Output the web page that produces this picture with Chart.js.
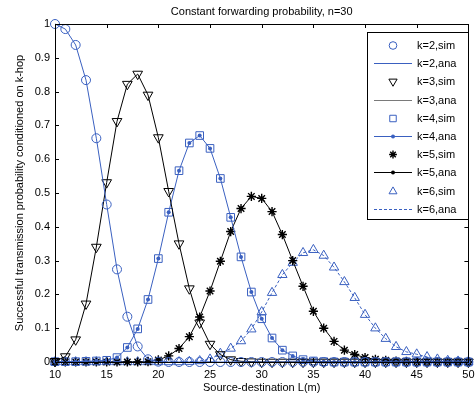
<!DOCTYPE html>
<html>
<head>
<meta charset="utf-8">
<title>Constant forwarding probability, n=30</title>
<script src="https://cdn.jsdelivr.net/npm/chart.js@4.4.1/dist/chart.umd.min.js"></script>
<style>
    body { margin: 0; background: #fff; }
    #chartBox { width: 475px; height: 401px; }
</style>
</head>
<body>
<div id="chartBox"><canvas id="hopChart" width="475" height="401"></canvas></div>
<script>
// Source-destination distance L (m)
const distances = [10, 11, 12, 13, 14, 15, 16, 17, 18, 19,
                   20, 21, 22, 23, 24, 25, 26, 27, 28, 29,
                   30, 31, 32, 33, 34, 35, 36, 37, 38, 39,
                   40, 41, 42, 43, 44, 45, 46, 47, 48, 49, 50];

// Success probability conditioned on k hops, one list per k
const hop2 = [1.0, 0.985, 0.938, 0.834, 0.662, 0.466, 0.274, 0.134, 0.046, 0.008,
              0.001, 0, 0, 0, 0, 0, 0, 0, 0, 0,
              0, 0, 0, 0, 0, 0, 0, 0, 0, 0,
              0, 0, 0, 0, 0, 0, 0, 0, 0, 0, 0];
const hop3 = [0.002, 0.016, 0.066, 0.172, 0.34, 0.531, 0.712, 0.822, 0.852, 0.79,
              0.664, 0.505, 0.35, 0.217, 0.116, 0.053, 0.022, 0.007, 0.002, 0.001,
              0, 0, 0, 0, 0, 0, 0, 0, 0, 0,
              0, 0, 0, 0, 0, 0, 0, 0, 0, 0, 0];
const hop4 = [0.001, 0.001, 0.001, 0.002, 0.003, 0.005, 0.013, 0.043, 0.098, 0.185,
              0.306, 0.443, 0.566, 0.648, 0.67, 0.632, 0.543, 0.428, 0.311, 0.207,
              0.128, 0.071, 0.035, 0.018, 0.007, 0.003, 0.001, 0, 0, 0,
              0, 0, 0, 0, 0, 0, 0, 0, 0, 0, 0];
const hop5 = [0, 0, 0, 0, 0, 0, 0, 0, 0, 0.001,
              0.006, 0.018, 0.04, 0.075, 0.133, 0.21, 0.298, 0.386, 0.454, 0.49,
              0.484, 0.445, 0.377, 0.3, 0.224, 0.15, 0.1, 0.061, 0.035, 0.022,
              0.013, 0.008, 0.005, 0.003, 0.002, 0.001, 0.001, 0, 0, 0, 0];
const hop6 = [0, 0, 0, 0, 0, 0, 0, 0, 0, 0,
              0, 0, 0, 0.001, 0.003, 0.008, 0.025, 0.04, 0.062, 0.097,
              0.148, 0.205, 0.258, 0.294, 0.323, 0.332, 0.315, 0.28, 0.237, 0.19,
              0.14, 0.1, 0.069, 0.045, 0.03, 0.023, 0.015, 0.008, 0.004, 0.002, 0.001];

const xTicks = [10, 15, 20, 25, 30, 35, 40, 45, 50];
const yTicks = [0, 0.1, 0.2, 0.3, 0.4, 0.5, 0.6, 0.7, 0.8, 0.9, 1];

const BLUE = '#3a60c0';
const FONT = "'Liberation Sans', Arial, sans-serif";

// one entry per dataset, read back by the legend box
const legendItems = [];

function toPoints(vals) {
    return vals.map((v, i) => ({ x: distances[i], y: v }));
}

// simulated results: markers only
function simSet(label, vals, color, style, radius, rotation, width) {
    legendItems.push({ label, color, line: false, style, radius: radius * 0.85, rotation: rotation || 0, width: width || 1 });
    return {
        label: label,
        data: toPoints(vals),
        showLine: false,
        borderColor: color,
        backgroundColor: 'rgba(0,0,0,0)',
        pointStyle: style,
        pointRadius: radius,
        pointRotation: rotation || 0,
        pointBorderWidth: width || 1,
        pointBorderColor: color,
        pointBackgroundColor: 'rgba(0,0,0,0)',
        clip: false
    };
}

// analytical results: lines, optionally with small dots
function anaSet(label, vals, color, dotRadius, dash, legendColor) {
    legendItems.push({ label, color: legendColor || color, dotColor: color, line: true, dash: dash || [], radius: dotRadius });
    return {
        label: label,
        data: toPoints(vals),
        borderColor: color,
        backgroundColor: color,
        borderWidth: 1,
        borderDash: dash || [],
        tension: 0,
        pointStyle: 'circle',
        pointRadius: dotRadius,
        pointBorderWidth: 0,
        pointBackgroundColor: color,
        clip: false
    };
}

const datasets = [
    simSet('k=2,sim', hop2, BLUE, 'circle', 4.5),
    anaSet('k=2,ana', hop2, BLUE, 0),
    simSet('k=3,sim', hop3, '#000', 'triangle', 5.6, 180),
    anaSet('k=3,ana', hop3, '#000', 0, null, '#7a7a7a'),
    simSet('k=4,sim', hop4, BLUE, 'rect', 5.4),
    anaSet('k=4,ana', hop4, BLUE, 2),
    simSet('k=5,sim', hop5, '#000', 'star', 4.6, 0, 1.4),
    anaSet('k=5,ana', hop5, '#000', 2),
    simSet('k=6,sim', hop6, BLUE, 'triangle', 5.4),
    anaSet('k=6,ana', hop6, BLUE, 0, [3, 2])
];

// box, inward ticks, titles and the framed legend
const matlabFrame = {
    id: 'matlabFrame',
    afterDraw(chart) {
        const ctx = chart.ctx;
        const a = chart.chartArea;
        const xs = chart.scales.x;
        const ys = chart.scales.y;
        ctx.save();
        ctx.strokeStyle = '#000';
        ctx.lineWidth = 1;
        ctx.strokeRect(Math.round(a.left) + 0.5, Math.round(a.top) + 0.5,
            Math.round(a.right - a.left), Math.round(a.bottom - a.top));

        ctx.beginPath();
        xTicks.forEach(t => {
            const px = Math.round(xs.getPixelForValue(t)) + 0.5;
            ctx.moveTo(px, a.bottom); ctx.lineTo(px, a.bottom - 4);
            ctx.moveTo(px, a.top); ctx.lineTo(px, a.top + 4);
        });
        yTicks.forEach(t => {
            const py = Math.round(ys.getPixelForValue(t)) + 0.5;
            ctx.moveTo(a.left, py); ctx.lineTo(a.left + 4, py);
            ctx.moveTo(a.right, py); ctx.lineTo(a.right - 4, py);
        });
        ctx.stroke();

        ctx.fillStyle = '#000';
        ctx.font = '11px ' + FONT;
        ctx.textAlign = 'center';
        ctx.textBaseline = 'middle';
        const midX = (a.left + a.right) / 2;
        ctx.fillText('Constant forwarding probability, n=30', midX, 12);
        ctx.fillText('Source-destination L(m)', midX, 388);
        ctx.save();
        ctx.translate(20, (a.top + a.bottom) / 2);
        ctx.rotate(-Math.PI / 2);
        ctx.fillText('Successful transmission probability conditioned on k-hop', 0, 0);
        ctx.restore();

        // legend
        const lx = 367.5, ly = 32.5, lw = 101, lh = 187;
        ctx.fillStyle = '#fff';
        ctx.fillRect(lx, ly, lw, lh);
        ctx.strokeStyle = '#000';
        ctx.strokeRect(lx, ly, lw, lh);
        legendItems.forEach((item, i) => {
            const y = Math.round(45 + i * 18.2) + 0.5;
            ctx.save();
            if (item.line) {
                ctx.strokeStyle = item.color;
                ctx.lineWidth = 1;
                ctx.setLineDash(item.dash);
                ctx.beginPath();
                ctx.moveTo(374, y); ctx.lineTo(412, y);
                ctx.stroke();
                ctx.setLineDash([]);
                if (item.radius > 0) {
                    ctx.fillStyle = item.dotColor;
                    ctx.beginPath();
                    ctx.arc(393, y, item.radius, 0, Math.PI * 2);
                    ctx.fill();
                }
            } else {
                ctx.strokeStyle = item.color;
                ctx.fillStyle = 'rgba(0,0,0,0)';
                ctx.lineWidth = item.width;
                Chart.helpers.drawPoint(ctx, {
                    pointStyle: item.style,
                    rotation: item.rotation,
                    radius: item.radius,
                    borderWidth: item.width
                }, 393, y);
            }
            ctx.restore();
            ctx.fillStyle = '#000';
            ctx.textAlign = 'left';
            ctx.fillText(item.label, 417, y);
        });
        ctx.restore();
    }
};

function pinScale(size) {
    return function (scale) {
        if (scale.isHorizontal()) scale.height = size; else scale.width = size;
        scale.paddingLeft = 0;
        scale.paddingRight = 0;
        scale.paddingTop = 0;
        scale.paddingBottom = 0;
    };
}

const tickFormat = v => String(Number(v.toFixed(1)));

new Chart(document.getElementById('hopChart').getContext('2d'), {
    type: 'line',
    data: { datasets: datasets },
    plugins: [matlabFrame],
    options: {
        responsive: false,
        animation: false,
        devicePixelRatio: 1,
        layout: { padding: { left: 0, right: 3, top: 24, bottom: 0 } },
        plugins: {
            legend: { display: false },
            tooltip: { enabled: false }
        },
        scales: {
            x: {
                type: 'linear',
                min: 10,
                max: 50,
                afterFit: pinScale(39),
                afterBuildTicks: (scale) => { scale.ticks = xTicks.map(v => ({ value: v })); },
                grid: { display: false, drawTicks: false },
                border: { display: false },
                ticks: { padding: 6, color: '#000', font: { family: FONT, size: 11 }, maxRotation: 0, autoSkip: false, callback: tickFormat }
            },
            y: {
                min: 0,
                max: 1,
                afterFit: pinScale(55),
                afterBuildTicks: (scale) => { scale.ticks = yTicks.map(v => ({ value: v })); },
                grid: { display: false, drawTicks: false },
                border: { display: false },
                ticks: { padding: 5, color: '#000', font: { family: FONT, size: 11 }, autoSkip: false, callback: tickFormat }
            }
        }
    }
});
</script>
</body>
</html>
